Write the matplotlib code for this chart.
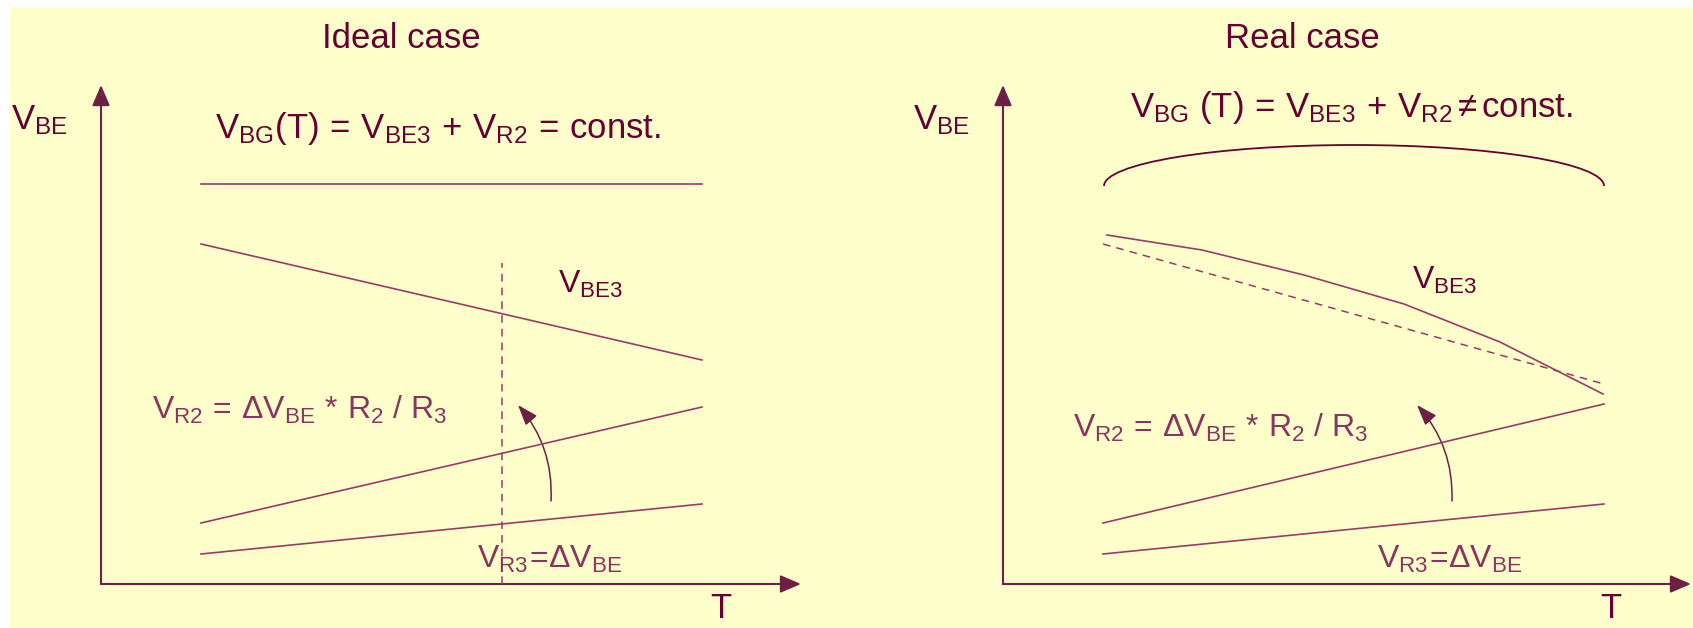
import matplotlib.pyplot as plt
from matplotlib.patches import FancyArrowPatch, Arc, Rectangle

plt.rcParams['font.family'] = ['Liberation Sans', 'DejaVu Sans']
plt.rcParams['mathtext.fontset'] = 'custom'
plt.rcParams['mathtext.rm'] = 'Liberation Sans'
plt.rcParams['mathtext.it'] = 'Liberation Sans'

# diagram values, in plot units measured from each origin
t_start, t_end = 100, 601
axis_x_len = [700, 688]
axis_y_len = 499

# ideal case
ideal_const = [400, 400]
ideal_vbe3 = [340, 224]
ideal_vr2 = [61, 177]
ideal_vr3 = [30, 80]
ideal_cut_x = 401
ideal_cut_top = 321

# real case
real_t = [104, 199, 301, 401, 497, 600]
real_vbe3 = [349, 334, 309, 280, 242, 190]
real_vbe3_lin = [340, 200]
real_vr2 = [61, 180]
real_vr3 = [30, 80]
brace_center = (351, 398)
brace_size = (500, 82)

# sum arrows (start, end)
arrow_ideal = [(450, 83), (417, 179)]
arrow_real = [(449, 83), (414, 179)]

dark = '#660033'
mid = '#8A3560'
line_c = '#9B3A66'
axis_c = '#6E1F45'

fig = plt.figure(figsize=(16.93, 6.28), dpi=100)
fig.patches.append(Rectangle((10 / 1693, 0), 1, 621 / 628, transform=fig.transFigure,
                             facecolor='#FFFFCC', edgecolor='none', zorder=-10))

H = 628.0
W = 1693.0
head = '-|>,head_length=0.7,head_width=0.3'

f_ideal = r'$\mathregular{V_{BG}(T)\,=\,V_{BE3}\,+\,V_{R2}\,=\,const.}$'
f_real = r'$\mathregular{V_{BG}\ (T)\,=\,V_{BE3}\,+\,V_{R2}\,≠\,const.}$'
f_vr2 = r'$\mathregular{V_{R2}\,=\,ΔV_{BE}\,*\,R_2\ /\ R_3}$'
f_vr3 = r'$\mathregular{V_{R3}\!=\!ΔV_{BE}}$'


def make_ax(x0, xlen):
    ax = fig.add_axes([x0 / W, 44 / H, xlen / W, axis_y_len / H])
    ax.set_xlim(0, xlen)
    ax.set_ylim(0, axis_y_len)
    ax.axis('off')
    ax.patch.set_alpha(0)
    # axes arrows
    ax.add_patch(FancyArrowPatch((0, 0), (0, axis_y_len), arrowstyle=head,
                                 mutation_scale=18, color=axis_c, lw=1.5, clip_on=False,
                                 shrinkA=0, shrinkB=0))
    ax.add_patch(FancyArrowPatch((0, 0), (xlen, 0), arrowstyle=head,
                                 mutation_scale=18, color=axis_c, lw=1.5, clip_on=False,
                                 shrinkA=0, shrinkB=0))
    ax.text(-90, 464, r'$\mathregular{V_{BE}}$', fontsize=25, color=dark, va='center', ha='left')
    ax.text(xlen - 80, -24, 'T', fontsize=25, color=dark, va='center', ha='center')
    return ax


# ---- ideal case
ax1 = make_ax(101, axis_x_len[0])
x_ends = [t_start, t_end]
ax1.plot(x_ends, ideal_const, c=line_c, lw=1.2)
ax1.plot(x_ends, ideal_vbe3, c=line_c, lw=1.2)
ax1.plot(x_ends, ideal_vr2, c=line_c, lw=1.2)
ax1.plot(x_ends, ideal_vr3, c=line_c, lw=1.2)
ax1.plot([ideal_cut_x, ideal_cut_x], [0, ideal_cut_top], c=line_c, lw=1.1, ls=(0, (5, 4)))
ax1.add_patch(FancyArrowPatch(arrow_ideal[0], arrow_ideal[1], connectionstyle='arc3,rad=0.2',
                              arrowstyle='-|>,head_length=0.7,head_width=0.25', mutation_scale=18,
                              color=axis_c, lw=1.1, shrinkA=0, shrinkB=0))
ax1.text(300, 546, 'Ideal case', fontsize=25, color=dark, ha='center', va='center')
ax1.text(114, 456, f_ideal, fontsize=25, color=dark, ha='left', va='center')
ax1.text(457, 300, r'$\mathregular{V_{BE3}}$', fontsize=23, color=dark, ha='left', va='center')
ax1.text(51, 174, f_vr2, fontsize=23, color=mid, ha='left', va='center')
ax1.text(376, 25, f_vr3, fontsize=23, color=mid, ha='left', va='center')

# ---- real case
ax2 = make_ax(1003, axis_x_len[1])
ax2.plot(real_t, real_vbe3, c=line_c, lw=1.2)
ax2.plot(x_ends, real_vbe3_lin, c=line_c, lw=1.1, ls=(0, (5, 4)))
ax2.plot(x_ends, real_vr2, c=line_c, lw=1.2)
ax2.plot(x_ends, real_vr3, c=line_c, lw=1.2)
ax2.add_patch(Arc(brace_center, brace_size[0], brace_size[1], theta1=0, theta2=180,
                  color=dark, lw=1.3))
ax2.add_patch(FancyArrowPatch(arrow_real[0], arrow_real[1], connectionstyle='arc3,rad=0.2',
                              arrowstyle='-|>,head_length=0.7,head_width=0.25', mutation_scale=18,
                              color=axis_c, lw=1.1, shrinkA=0, shrinkB=0))
ax2.text(299, 546, 'Real case', fontsize=25, color=dark, ha='center', va='center')
ax2.text(127, 476, f_real, fontsize=25, color=dark, ha='left', va='center')
ax2.text(409, 304, r'$\mathregular{V_{BE3}}$', fontsize=23, color=dark, ha='left', va='center')
ax2.text(70, 156, f_vr2, fontsize=23, color=mid, ha='left', va='center')
ax2.text(374, 25, f_vr3, fontsize=23, color=mid, ha='left', va='center')

plt.savefig('out.png', dpi=100)
